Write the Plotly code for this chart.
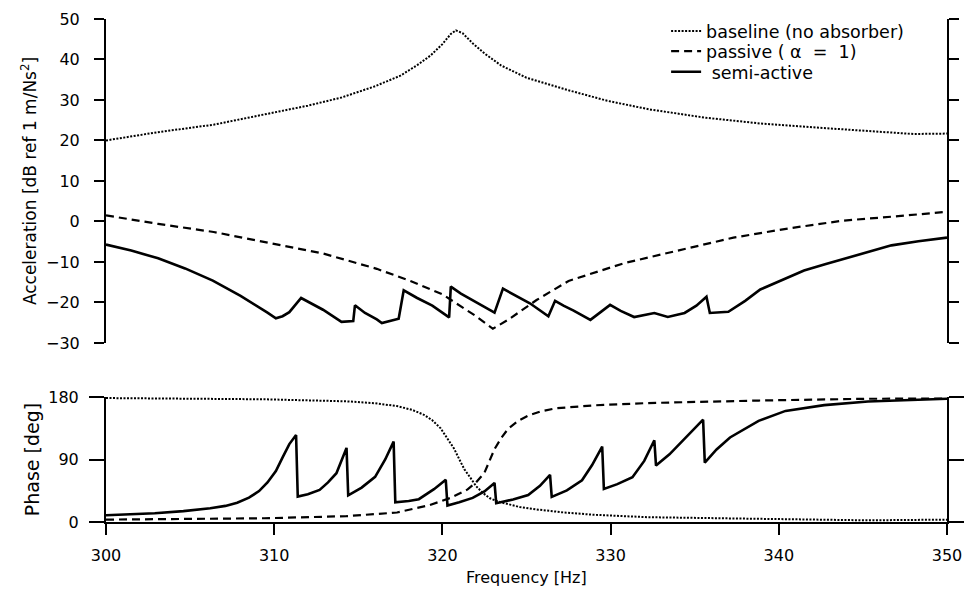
import plotly.graph_objects as go
from plotly.subplots import make_subplots

# --- acceleration magnitude [dB] ---
base_mag_f = [300, 303, 306.4, 309.6, 312, 314, 315, 316, 317.5, 318.5, 319.3, 320, 320.5, 320.8,
              321.2, 321.8, 322.5, 323.5, 325, 326.4, 327.5, 329.8, 332.4, 335.7, 338.9, 342.2,
              345.4, 348, 350]
base_mag = [20.0, 22.0, 23.9, 26.6, 28.6, 30.6, 32.0, 33.4, 36.0, 38.6, 41.0, 43.8, 46.3, 47.2,
            46.5, 44.0, 41.5, 38.5, 35.5, 33.8, 32.4, 29.8, 27.6, 25.6, 24.2, 23.2,
            22.3, 21.6, 21.7]

pass_mag_f = [300, 303.1, 306.4, 309.6, 312.9, 316.1, 318.1, 320.0, 322.0, 323.0, 323.9, 325.6,
              327.5, 330.8, 334.0, 337.3, 340.6, 343.8, 347.1, 350]
pass_mag = [1.5, -0.6, -2.6, -5.3, -7.9, -11.7, -14.7, -18.0, -23.4, -26.5, -24.3, -19.4,
            -14.7, -10.3, -7.2, -4.0, -1.7, 0.2, 1.3, 2.4]

semi_mag_f = [300, 301.5, 303.1, 304.7, 306.35, 308, 309.6, 310.1, 310.5, 310.9, 311.6, 312.2,
              312.9, 314.0, 314.7, 314.8, 315.4, 316.1, 316.4, 317.4, 317.7, 318.5, 319.4, 320.4,
              320.5, 321.1, 321.8, 323.1, 323.6, 324.4, 325.2, 326.3, 326.7, 327.2, 327.8, 328.8,
              329.97, 330.6, 331.4, 332.6, 333.4, 334.4, 335.1, 335.7, 335.9, 337, 338, 338.9,
              340.2, 341.5, 342.8, 344.1, 345.4, 346.7, 348.3, 350]
semi_mag = [-5.7, -7.2, -9.1, -11.6, -14.6, -18.4, -22.5, -23.9, -23.4, -22.4, -18.9, -20.3,
            -21.8, -24.8, -24.6, -20.7, -22.6, -24.2, -25.1, -24.0, -17.0, -18.9, -20.8, -23.7,
            -16.1, -17.8, -19.5, -22.5, -16.6, -18.4, -20.2, -23.4, -19.6, -20.8, -22.0, -24.3,
            -20.6, -22.1, -23.6, -22.6, -23.6, -22.6, -20.8, -18.6, -22.6, -22.3, -19.6, -16.8,
            -14.4, -12.1, -10.5, -9.0, -7.4, -5.9, -4.9, -4.0]

# --- phase [deg] ---
base_ph_f = [300, 309.4, 314.3, 316, 317.3, 318.2, 318.9, 319.4, 319.9, 320.3, 320.7, 321.0,
             321.3, 321.7, 322.0, 322.4, 322.8, 323.3, 323.8, 324.6, 325.7, 327.2, 329.0, 332.2,
             338.8, 345.3, 350]
base_ph = [178.5, 176.7, 173.8, 171.0, 166.9, 161.5, 154.4, 146.5, 134.8, 120.5, 105.4, 90.5,
           76.1, 62.5, 51.7, 42.0, 34.5, 29.5, 26.0, 21.5, 17.8, 13.8, 10.4, 6.9,
           4.6, 2.4, 3.4]

pass_ph_f = [300, 305, 309.4, 314.3, 317.3, 319.2, 320.5, 321.5, 322.0, 322.5, 322.8, 323.1,
             323.5, 323.9, 324.5, 325.1, 325.8, 326.7, 329.0, 332.2, 338.8, 345.3, 350]
pass_ph = [3.4, 4.2, 5.4, 8.4, 13.7, 24.0, 34.9, 46.9, 57.0, 71.0, 88.0, 105.0,
           121.0, 134.0, 145.5, 153.2, 159.0, 163.6, 168.0, 171.3, 174.9, 177.5, 177.6]

semi_ph_f = [300, 302.9, 304.6, 306.2, 307.1, 307.8, 308.5, 309.1, 309.6, 310.1, 310.5, 310.9,
             311.3, 311.4, 312.0, 312.7, 313.2, 313.7, 314.3, 314.4, 315.2, 316.0, 316.6,
             317.1, 317.2, 318.0, 318.6, 319.5, 320.2, 320.3, 321.0, 321.8, 322.5, 323.1, 323.2,
             324.2, 325.1, 325.8, 326.4, 326.5, 327.4, 328.3, 328.9, 329.5, 329.6, 330.4, 331.3,
             332.0, 332.6, 332.7, 333.5, 334.2, 334.9, 335.5, 335.6, 336.3, 337.1, 338.0,
             338.8, 340.4, 342.7, 345.3, 347.9, 350]
semi_ph = [9.7, 12.6, 15.6, 19.7, 23.2, 27.7, 35.0, 44.5, 57.0, 73.5, 93.0, 112.2,
           125.3, 36.6, 40.0, 46.2, 57.0, 70.3, 106.7, 38.4, 49.5, 65.0, 90.0,
           115.8, 28.2, 30.2, 32.9, 47.3, 60.8, 23.7, 28.5, 34.7, 44.0, 56.3, 27.1,
           32.5, 38.9, 52.0, 67.8, 36.1, 45.5, 60.1, 82.0, 108.7, 47.7, 54.5, 64.5,
           88.0, 117.7, 81.2, 97.5, 115.0, 132.0, 147.3, 85.4, 104.5, 121.7, 135.0,
           145.7, 160.0, 168.3, 173.6, 175.5, 177.6]

labels = ['baseline (no absorber)', 'passive ( \u03b1  =  1)', '\u00a0semi-active']
styles = [dict(color='black', width=2, dash='2px,1.5px'),
          dict(color='black', width=2.2, dash='8px,5px'),
          dict(color='black', width=2.6)]
legend_ids = ['legend', 'legend2', 'legend3']

fig = make_subplots(rows=2, cols=1)

mags = [(base_mag_f, base_mag), (pass_mag_f, pass_mag), (semi_mag_f, semi_mag)]
phases = [(base_ph_f, base_ph), (pass_ph_f, pass_ph), (semi_ph_f, semi_ph)]

for name, st, lg, (fx, fy) in zip(labels, styles, legend_ids, mags):
    fig.add_trace(go.Scatter(x=fx, y=fy, mode='lines', name=name, line=st, legend=lg),
                  row=1, col=1)
for name, st, (fx, fy) in zip(labels, styles, phases):
    fig.add_trace(go.Scatter(x=fx, y=fy, mode='lines', name=name, line=st, showlegend=False),
                  row=2, col=1)

family = 'DejaVu Sans, Verdana, sans-serif'
font = dict(family=family, size=16, color='black')

fig.update_xaxes(range=[300, 350], showgrid=False, zeroline=False, automargin=False)
fig.update_xaxes(showline=False, showticklabels=False, ticks='', row=1, col=1)
fig.update_xaxes(showline=True, linecolor='black', linewidth=2, ticks='outside', ticklen=11,
                 tickwidth=2, tickcolor='black', tickvals=[300, 310, 320, 330, 340, 350],
                 ticklabelstandoff=7, row=2, col=1)

fig.update_yaxes(showgrid=False, zeroline=False, showline=True, linecolor='black', linewidth=2,
                 mirror='ticks', ticks='outside', tickwidth=2, tickcolor='black',
                 automargin=False)
fig.update_yaxes(range=[-30, 50], dtick=10, ticklen=10, domain=[0.356, 1],
                 ticklabelstandoff=11,
                 title=dict(text='Acceleration [dB ref 1 m/Ns<sup>2</sup>]', standoff=5,
                            font=dict(size=17)),
                 row=1, col=1)
fig.update_yaxes(range=[0, 180], tickvals=[0, 90, 180], ticklen=15, domain=[0, 0.2485],
                 ticklabelstandoff=7,
                 title=dict(text='Phase [deg]', standoff=4), row=2, col=1)

# x axis title as a paper annotation (centred under the plot)
fig.add_annotation(text='Frequency [Hz]', xref='paper', yref='paper', x=0.5, y=-0.111,
                   xanchor='center', yanchor='middle', showarrow=False,
                   font=dict(family=family, size=16, color='black'))

leg_common = dict(x=0.666, xanchor='left', yanchor='middle', bgcolor='rgba(0,0,0,0)',
                  font=dict(size=17.5), borderwidth=0)
fig.update_layout(
    width=965, height=589,
    margin=dict(l=106, r=18, t=19, b=67),
    paper_bgcolor='white', plot_bgcolor='white',
    font=font,
    showlegend=True,
    legend=dict(y=0.976, **leg_common),
    legend2=dict(y=0.936, **leg_common),
    legend3=dict(y=0.895, **leg_common),
)

fig.write_html("out.html", config={'displayModeBar': False},
               post_script="document.body.style.margin='0';")
